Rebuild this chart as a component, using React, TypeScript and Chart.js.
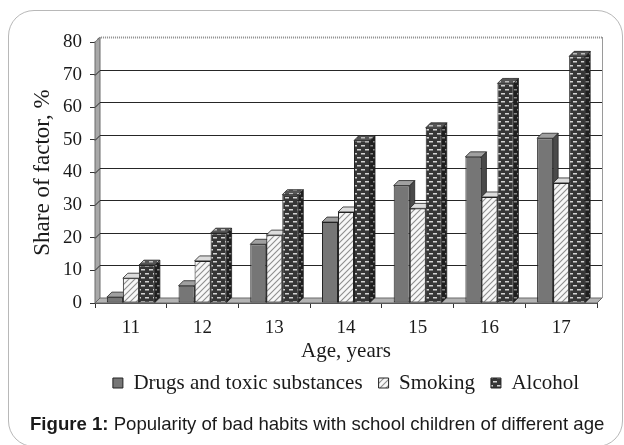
import React, { useEffect, useRef } from "react";
import { Chart, registerables } from "chart.js";
Chart.register(...registerables);

const categories = ["11", "12", "13", "14", "15", "16", "17"];
const drugs = [1.8, 5.3, 18, 24.8, 36, 44.8, 50.5];
const smoking = [7.6, 12.9, 20.8, 27.9, 29, 32.5, 36.8];
const alcohol = [11.6, 21.4, 33.2, 49.8, 53.7, 67.3, 75.6];
const seriesNames = ["Drugs and toxic substances", "Smoking", "Alcohol"];
const yMin = 0;
const yMax = 80;
const yStep = 10;
const xTitle = "Age, years";
const yTitle = "Share of factor, %";
const captionBold = "Figure 1:";
const captionText = " Popularity of bad habits with school children of different age";

const SERIF = '"Liberation Serif", "Times New Roman", serif';
const SANS = '"Liberation Sans", Arial, sans-serif';
const DEPTH = 5;

function tile(w: number, h: number, draw: (g: CanvasRenderingContext2D) => void) {
  const c = document.createElement("canvas");
  c.width = w;
  c.height = h;
  const g = c.getContext("2d") as CanvasRenderingContext2D;
  draw(g);
  return c;
}

export default function App() {
  const ref = useRef<HTMLCanvasElement | null>(null);

  useEffect(() => {
    const canvas = ref.current;
    if (!canvas) return;
    const ctx0 = canvas.getContext("2d") as CanvasRenderingContext2D;

    const hatch = (bg: string, line: string) =>
      ctx0.createPattern(
        tile(6, 6, (g) => {
          g.fillStyle = bg;
          g.fillRect(0, 0, 6, 6);
          g.strokeStyle = line;
          g.lineWidth = 1.1;
          g.beginPath();
          g.moveTo(-1, 7);
          g.lineTo(7, -1);
          g.moveTo(-1, 1);
          g.lineTo(1, -1);
          g.moveTo(5, 7);
          g.lineTo(7, 5);
          g.stroke();
        }),
        "repeat"
      ) as CanvasPattern;

    const bricks = (bg: string, dash: string) =>
      ctx0.createPattern(
        tile(8, 8, (g) => {
          g.fillStyle = bg;
          g.fillRect(0, 0, 8, 8);
          g.fillStyle = dash;
          g.fillRect(1, 1, 4, 1.5);
          g.fillRect(5, 5, 3, 1.5);
          g.fillRect(0, 5, 1, 1.5);
        }),
        "repeat"
      ) as CanvasPattern;

    const fronts: (string | CanvasPattern)[] = [
      "#767676",
      hatch("#f7f7f7", "#8e8e8e"),
      bricks("#363636", "#d4d4d4"),
    ];
    const tops: (string | CanvasPattern)[] = [
      "#a0a0a0",
      "#dcdcdc",
      bricks("#555555", "#bdbdbd"),
    ];
    const sides: (string | CanvasPattern)[] = [
      "#4a4a4a",
      hatch("#d0d0d0", "#8a8a8a"),
      bricks("#1f1f1f", "#8a8a8a"),
    ];

    const threeD = {
      id: "threeD",
      beforeDatasetsDraw(chart: any) {
        const { ctx, chartArea: a, scales } = chart;
        const ys = scales.y;
        const d = DEPTH;
        ctx.save();
        // left wall
        ctx.fillStyle = "#a8a8a8";
        ctx.strokeStyle = "#6a6a6a";
        ctx.lineWidth = 1;
        ctx.beginPath();
        ctx.moveTo(a.left, a.top);
        ctx.lineTo(a.left + d, a.top - d);
        ctx.lineTo(a.left + d, a.bottom - d);
        ctx.lineTo(a.left, a.bottom);
        ctx.closePath();
        ctx.fill();
        ctx.stroke();
        // floor
        ctx.fillStyle = "#b4b4b4";
        ctx.beginPath();
        ctx.moveTo(a.left, a.bottom);
        ctx.lineTo(a.left + d, a.bottom - d);
        ctx.lineTo(a.right + d, a.bottom - d);
        ctx.lineTo(a.right, a.bottom);
        ctx.closePath();
        ctx.fill();
        ctx.stroke();
        // right edge of back wall
        ctx.strokeStyle = "#9a9a9a";
        ctx.beginPath();
        ctx.moveTo(a.right + d + 0.5, a.top - d);
        ctx.lineTo(a.right + d + 0.5, a.bottom - d);
        ctx.stroke();
        // gridlines
        for (let v = yMin + yStep; v <= yMax; v += yStep) {
          const py = Math.round(ys.getPixelForValue(v)) + 0.5;
          if (v === yMax) {
            ctx.strokeStyle = "#8c8c8c";
            ctx.lineWidth = 2;
            ctx.setLineDash([1, 1]);
          } else {
            ctx.strokeStyle = "#262626";
            ctx.lineWidth = 1;
            ctx.setLineDash([]);
          }
          ctx.beginPath();
          ctx.moveTo(a.left, py);
          ctx.lineTo(a.left + d, py - d);
          ctx.lineTo(a.right + d, py - d);
          ctx.stroke();
        }
        ctx.setLineDash([]);
        // side and top faces of bars
        const metas = [0, 1, 2].map((i) => chart.getDatasetMeta(i));
        ctx.strokeStyle = "#222";
        ctx.lineWidth = 0.8;
        for (let j = 0; j < categories.length; j++) {
          for (let i = 0; i < 3; i++) {
            const el = metas[i].data[j];
            if (!el) continue;
            const l = el.x - el.width / 2;
            const r = el.x + el.width / 2;
            const t = el.y;
            const b = el.base;
            ctx.fillStyle = sides[i];
            ctx.beginPath();
            ctx.moveTo(r, t);
            ctx.lineTo(r + d, t - d);
            ctx.lineTo(r + d, b - d);
            ctx.lineTo(r, b);
            ctx.closePath();
            ctx.fill();
            ctx.stroke();
            ctx.fillStyle = tops[i];
            ctx.beginPath();
            ctx.moveTo(l, t);
            ctx.lineTo(l + d, t - d);
            ctx.lineTo(r + d, t - d);
            ctx.lineTo(r, t);
            ctx.closePath();
            ctx.fill();
            ctx.stroke();
          }
        }
        ctx.restore();
      },
    };

    const mk = (label: string, data: number[], i: number) => ({
      label,
      data,
      backgroundColor: fronts[i],
      borderColor: "#222",
      borderWidth: 1,
      borderSkipped: false,
      categoryPercentage: 0.67,
      barPercentage: 1.0,
    });

    const chart = new Chart(canvas, {
      type: "bar",
      data: {
        labels: categories,
        datasets: [
          mk(seriesNames[0], drugs, 0),
          mk(seriesNames[1], smoking, 1),
          mk(seriesNames[2], alcohol, 2),
        ] as any,
      },
      options: {
        animation: false,
        responsive: false,
        devicePixelRatio: 1,
        layout: { padding: { left: 30, right: 27, top: 42, bottom: 41.5 } },
        plugins: {
          tooltip: { enabled: false },
          legend: {
            position: "bottom",
            fullSize: false,
            labels: {
              boxWidth: 10,
              boxHeight: 10,
              padding: 16,
              color: "#1a1a1a",
              font: { family: SERIF, size: 21 },
            },
          },
        },
        scales: {
          x: {
            afterFit: (s: any) => {
              s.height = 53.5;
            },
            grid: {
              offset: true,
              drawOnChartArea: false,
              drawTicks: true,
              tickLength: 5,
              color: "#333",
            },
            border: { display: true, color: "#444" },
            ticks: {
              padding: 9,
              color: "#1a1a1a",
              font: { family: SERIF, size: 19 },
            },
            title: {
              display: true,
              text: xTitle,
              color: "#1a1a1a",
              font: { family: SERIF, size: 21 },
              padding: { top: 0, bottom: -8 },
            },
          },
          y: {
            min: yMin,
            max: yMax,
            afterFit: (s: any) => {
              s.width = 65;
            },
            grid: {
              drawOnChartArea: false,
              drawTicks: true,
              tickLength: 5,
              color: "#333",
            },
            border: { display: true, color: "#444" },
            ticks: {
              stepSize: yStep,
              padding: 8,
              color: "#1a1a1a",
              font: { family: SERIF, size: 19 },
            },
            title: {
              display: true,
              text: yTitle,
              color: "#1a1a1a",
              font: { family: SERIF, size: 23 },
              padding: { top: -1, bottom: 0 },
            },
          },
        },
      } as any,
      plugins: [threeD],
    });
    return () => chart.destroy();
  }, []);

  return (
    <div
      style={{
        position: "absolute",
        left: 0,
        top: 0,
        width: 624,
        height: 445,
        overflow: "hidden",
        background: "#fff",
      }}
    >
      <div
        style={{
          position: "absolute",
          left: 8,
          top: 10,
          width: 615,
          height: 437,
          border: "1.5px solid #b8b8b8",
          borderRadius: 26,
          boxSizing: "border-box",
        }}
      />
      <canvas
        ref={ref}
        width={624}
        height={445}
        style={{ position: "absolute", left: 0, top: 0, width: 624, height: 445 }}
      />
      <div
        style={{
          position: "absolute",
          left: 30,
          top: 413,
          whiteSpace: "nowrap",
          fontFamily: SANS,
          fontSize: 18.6,
          lineHeight: "22px",
          color: "#1a1a1a",
        }}
      >
        <b>{captionBold}</b>
        {captionText}
      </div>
    </div>
  );
}
